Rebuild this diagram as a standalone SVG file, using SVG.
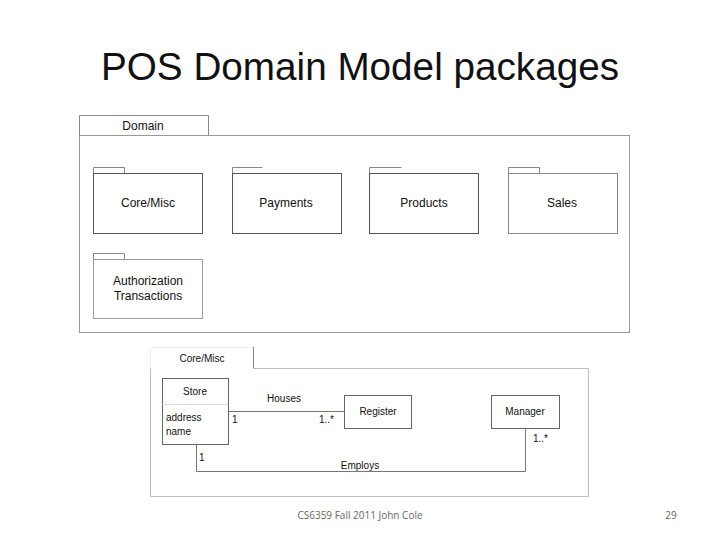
<svg xmlns="http://www.w3.org/2000/svg" width="720" height="540" viewBox="0 0 720 540">
<style>
.t{font-family:"Liberation Sans",Arial,sans-serif;fill:#111;}
.pk{fill:#fff;stroke:#555;stroke-width:1;}
.tab{fill:none;stroke:#888;stroke-width:1;}
.c12{font-size:12px;text-anchor:middle;}
.c10{font-size:10px;}
.ln{fill:none;stroke:#777;stroke-width:1;}
.box{fill:#fff;stroke:#666;stroke-width:1;}
</style>
<rect width="720" height="540" fill="#fff"/>
<text class="t" x="360" y="80" font-size="38" text-anchor="middle" textLength="518" lengthAdjust="spacingAndGlyphs">POS Domain Model packages</text>

<g id="domain">
<path d="M79.5 135.5 V115.5 H208.5 V135.5" fill="none" stroke="#888"/>
<rect x="79.5" y="135.5" width="550" height="197" fill="none" stroke="#999"/>
<text class="t c12" x="143" y="130">Domain</text>
</g>

<g id="core-misc">
<path class="tab" d="M93.5 173.5 V167.5 H124.5 V173.5"/>
<rect class="pk" x="93.5" y="173.5" width="109" height="60"/>
<text class="t c12" x="148" y="207">Core/Misc</text>
</g>
<g id="payments">
<path class="tab" d="M232.5 173.5 V167.5 H262.5"/>
<rect class="pk" x="232.5" y="173.5" width="109" height="60"/>
<text class="t c12" x="286" y="207">Payments</text>
</g>
<g id="products">
<path class="tab" d="M369.5 173.5 V167.5 H401.5"/>
<rect class="pk" x="369.5" y="173.5" width="109" height="60"/>
<text class="t c12" x="424" y="207">Products</text>
</g>
<g id="sales">
<path class="tab" d="M508.5 173.5 V167.5 H539.5 V173.5"/>
<rect class="pk" x="508.5" y="173.5" width="109" height="60" style="stroke:#888"/>
<text class="t c12" x="562" y="207">Sales</text>
</g>
<g id="authorization">
<path class="tab" d="M93.5 259.5 V253.5 H124.5 V259.5"/>
<rect class="pk" x="93.5" y="259.5" width="109" height="59" style="stroke:#999"/>
<text class="t c12" x="148" y="285">Authorization</text>
<text class="t c12" x="148" y="300">Transactions</text>
</g>

<g id="core-misc-detail">
<path d="M150.5 368.5 V347.5 H253.5" fill="none" stroke="#eee"/>
<line x1="253.5" y1="347" x2="253.5" y2="368.5" stroke="#888"/>
<path d="M253.5 368.5 H588.5 V496.5 H150.5 V368.5" fill="none" stroke="#bbb"/>
<text class="t" x="202" y="362" font-size="10" text-anchor="middle">Core/Misc</text>
</g>

<g id="connectors">
<line class="ln" x1="228" y1="411.5" x2="344" y2="411.5"/>
<path class="ln" d="M196.5 444 V471.5 H525.5 V428"/>
</g>

<g id="store">
<rect class="box" x="162.5" y="378.5" width="66" height="66"/>
<line x1="162.5" y1="404.5" x2="228.5" y2="404.5" stroke="#ddd"/>
<text class="t" x="195" y="395" font-size="10" text-anchor="middle">Store</text>
<text class="t c10" x="166" y="421">address</text>
<text class="t c10" x="166" y="435">name</text>
</g>
<g id="register">
<rect class="box" x="344.5" y="395.5" width="67" height="33"/>
<text class="t" x="378" y="415" font-size="10" text-anchor="middle">Register</text>
</g>
<g id="manager">
<rect class="box" x="491.5" y="395.5" width="68" height="33"/>
<text class="t" x="525" y="415" font-size="10" text-anchor="middle">Manager</text>
</g>

<g id="labels">
<text class="t" x="284" y="402" font-size="10" text-anchor="middle">Houses</text>
<text class="t c10" x="232" y="423">1</text>
<text class="t c10" x="319" y="423">1..*</text>
<text class="t c10" x="199" y="461">1</text>
<text class="t" x="360" y="469" font-size="10" text-anchor="middle">Employs</text>
<text class="t c10" x="533" y="442">1..*</text>
</g>

<text x="360" y="519" font-family="'Open Sans','Liberation Sans',sans-serif" font-size="10" fill="#666" text-anchor="middle">CS6359 Fall 2011 John Cole</text>
<text x="671" y="519" font-family="'Open Sans','Liberation Sans',sans-serif" font-size="10" fill="#666" text-anchor="middle">29</text>
</svg>
